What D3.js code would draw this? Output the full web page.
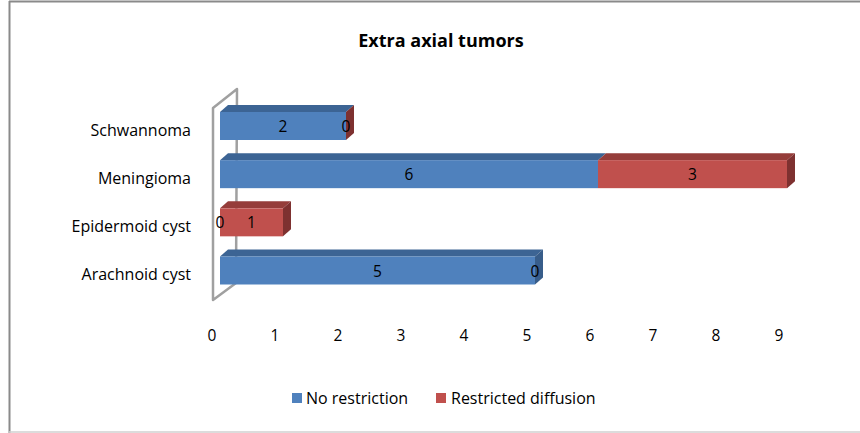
<!DOCTYPE html>
<html><head><meta charset="utf-8">
<script src="https://cdn.jsdelivr.net/npm/d3@7"></script>
<style>body{margin:0;background:#fff}svg{display:block;font-family:"Open Sans",sans-serif}</style>
</head><body>
<svg id="c" width="860" height="433"></svg>
<script>
const categories = ["Schwannoma","Meningioma","Epidermoid cyst","Arachnoid cyst"];
const seriesNames = ["No restriction","Restricted diffusion"];
const noRestriction = [2,6,0,5];
const restrictedDiffusion = [0,3,1,0];
const tickValues = [0,1,2,3,4,5,6,7,8,9];
const title = "Extra axial tumors";

const colors = [
  {front:"#4F81BD", top:"#3C6494", side:"#385D8A"},
  {front:"#C0504D", top:"#953D3A", side:"#7E3130"}
];

const svg = d3.select("#c");
// frame
svg.append("line").attr("x1",9.5).attr("y1",1).attr("x2",9.5).attr("y2",433).attr("stroke","#8a8a8a").attr("stroke-width",2);
svg.append("line").attr("x1",9).attr("y1",1.5).attr("x2",860).attr("y2",1.5).attr("stroke","#8a8a8a").attr("stroke-width",2);
svg.append("line").attr("x1",9).attr("y1",432).attr("x2",860).attr("y2",432).attr("stroke","#d0d0d0").attr("stroke-width",1.5);

const x = d3.scaleLinear().domain([0,9]).range([220,787]);
const y = d3.scalePoint().domain(categories).range([126,270.5]);
const bh = 28, dx = 8, dy = -7;

svg.append("text").attr("x",441).attr("y",47).attr("text-anchor","middle")
  .attr("font-weight","bold").attr("font-size",18).text(title);

// wall
const x0 = x(0);
svg.append("path")
  .attr("d",`M${x0+17},89 L${x0-7},108 L${x0-7},300 L${x0+16},283 Z`)
  .attr("fill","none").attr("stroke","#a0a0a0").attr("stroke-width",2.5).attr("stroke-linejoin","round");

const data = categories.map((c,i)=>({cat:c, vals:[noRestriction[i], restrictedDiffusion[i]]}));

data.forEach(d=>{
  let acc = 0;
  const cy = y(d.cat), top = cy - bh/2;
  const segs = d.vals.map((v,k)=>{const s={k,v,a:acc,b:acc+v}; acc+=v; return s;});
  const g = svg.append("g");
  segs.forEach(s=>{
    if (s.v===0) return;
    const xa = x(s.a), xb = x(s.b), c = colors[s.k];
    g.append("path").attr("d",`M${xa},${top} L${xa+dx},${top+dy} L${xb+dx},${top+dy} L${xb},${top} Z`).attr("fill",c.top);
    g.append("rect").attr("x",xa).attr("y",top).attr("width",xb-xa).attr("height",bh).attr("fill",c.front);
  });
  // side face at end
  const last = d.vals[1] > 0 || d.cat==="Schwannoma" ? 1 : 0;
  const xe = x(acc), c = colors[last];
  g.append("path").attr("d",`M${xe},${top} L${xe+dx},${top+dy} L${xe+dx},${top+dy+bh} L${xe},${top+bh} Z`).attr("fill",c.side);
  // labels
  segs.forEach(s=>{
    g.append("text").attr("x",x((s.a+s.b)/2)).attr("y",cy+6).attr("text-anchor","middle")
      .attr("font-size",15.5).attr("fill","#000").text(s.v);
  });
  svg.append("text").attr("x",191).attr("y",cy+9.5).attr("text-anchor","end")
    .attr("font-size",16).attr("fill","#000").text(d.cat);
});

// x tick labels
svg.append("g").selectAll("text").data(tickValues).join("text")
  .attr("x",v=>x(v)-8).attr("y",341).attr("text-anchor","middle")
  .attr("font-size",15.5).text(v=>v);

// legend
const leg = [{x:292,tx:306},{x:436,tx:451}];
seriesNames.forEach((n,i)=>{
  svg.append("rect").attr("x",leg[i].x).attr("y",393).attr("width",10).attr("height",10).attr("fill",colors[i].front);
  svg.append("text").attr("x",leg[i].tx).attr("y",404).attr("font-size",16).text(n);
});
</script>
</body></html>
